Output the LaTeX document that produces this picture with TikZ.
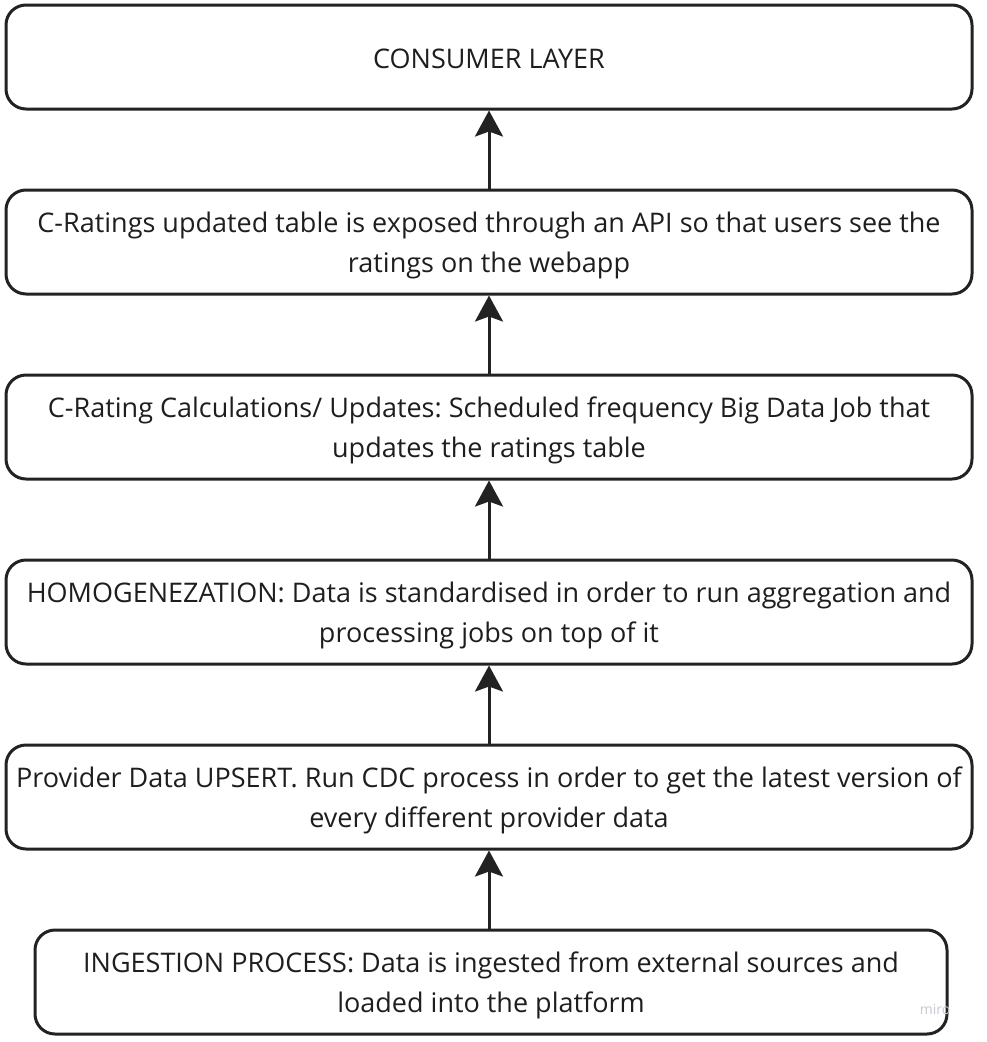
\documentclass[tikz,border=0pt]{standalone}
\usepackage{fontspec}
\setmainfont{Open Sans}
\usetikzlibrary{arrows.meta}
\definecolor{ink}{HTML}{222222}
\definecolor{txt}{HTML}{1E1E1E}
\definecolor{wm}{HTML}{C8C8D2}
\frenchspacing
\begin{document}
\begin{tikzpicture}[x=1pt,y=-1pt,
  box/.style={draw=ink, line width=3pt, rounded corners=20pt, minimum width=966pt,
    minimum height=104pt, inner sep=0pt, align=center, text=txt,
    font=\fontsize{27}{40}\selectfont},
  lbl/.style={text=txt, align=center, font=\fontsize{27}{40}\selectfont\frenchspacing, inner sep=0pt},
  arr/.style={draw=ink, line width=3pt, -{Stealth[length=26pt,width=28pt,inset=5pt]}}]
\useasboundingbox (0,0) rectangle (986,1042);
\node[box] (b1) at (489,57) {};
\node[box] (b2) at (489,242) {};
\node[box] (b3) at (489,427) {};
\node[box] (b4) at (489,612) {};
\node[box] (b5) at (489,797) {};
\node[box, minimum width=912pt] (b6) at (491,982) {};
\node[lbl] (t1) at ([yshift=-2pt]b1.center) {CONSUMER LAYER};
\node[lbl] (t2) at ([yshift=-3pt]b2.center) {C-Ratings updated table is exposed through an API so that users see the\\ratings on the webapp};
\node[lbl] (t3) at ([yshift=-3pt]b3.center) {C-Rating Calculations/ Updates: Scheduled frequency Big Data Job that\\updates the ratings table};
\node[lbl] (t4) at ([yshift=-3pt]b4.center) {HOMOGENEZATION: Data is standardised in order to run aggregation and\\processing jobs on top of it};
\node[lbl] (t5) at ([yshift=-3pt]b5.center) {Provider Data UPSERT. Run CDC process in order to get the latest version of\\every different provider data};
\node[lbl] (t6) at ([yshift=-3pt]b6.center) {INGESTION PROCESS: Data is ingested from external sources and\\loaded into the platform};
\node[text=wm, font=\fontsize{14}{16}\selectfont, anchor=center] (wmk) at (935,1009) {miro};
\draw[arr] (b2.north) -- (b1.south);
\draw[arr] (b3.north) -- (b2.south);
\draw[arr] (b4.north) -- (b3.south);
\draw[arr] (b5.north) -- (b4.south);
\draw[arr] (b5.south |- b6.north) -- (b5.south);
\end{tikzpicture}
\end{document}
